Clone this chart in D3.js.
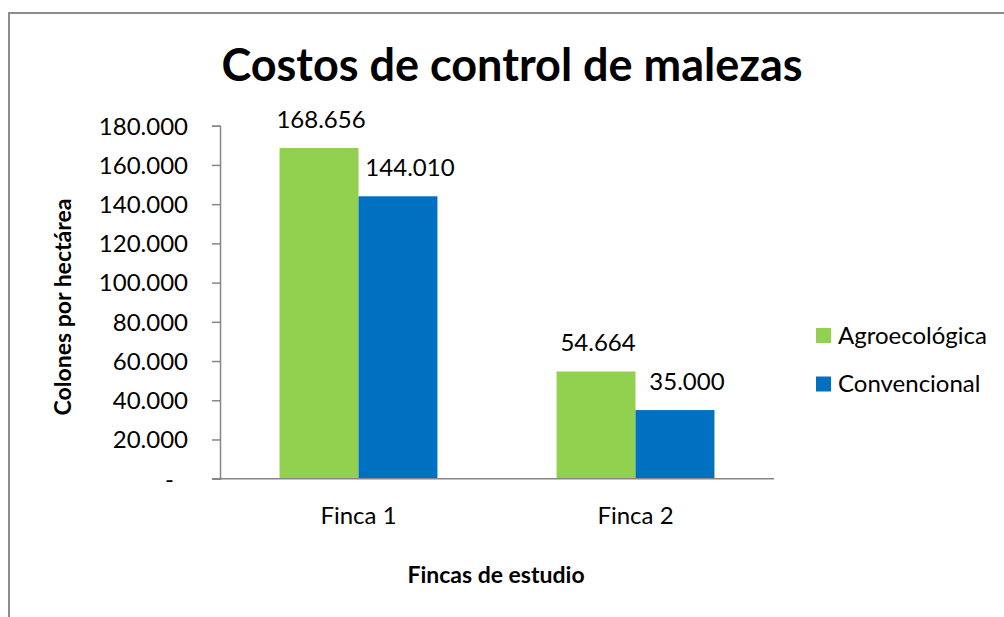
<!DOCTYPE html>
<html>
<head>
<meta charset="utf-8">
<script src="https://cdn.jsdelivr.net/npm/d3@7"></script>
<style>
  body { margin: 0; background: #fff; }
  svg { display: block; font-family: Lato, "Open Sans", sans-serif; }
  .axis path, .axis line { stroke: #868686; stroke-width: 1.5; }
  .axis text { font-family: Lato, "Open Sans", sans-serif; font-size: 24px; fill: #000; }
</style>
</head>
<body>
<svg></svg>
<script>
var categories = ["Finca 1", "Finca 2"];
var seriesNames = ["Agroecológica", "Convencional"];
var agroValues = [168656, 54664];
var convValues = [144010, 35000];
var yTicks = [0, 20000, 40000, 60000, 80000, 100000, 120000, 140000, 160000, 180000];
var colors = ["#92D050", "#0070C0"];

var width = 1004, height = 617;
var margins = { left: 220, right: 230, top: 125.7, bottom: 138.3 };

var svg = d3.select("svg")
  .attr("width", width)
  .attr("height", height);

// chart frame
svg.append("rect")
  .attr("x", 9).attr("y", 13)
  .attr("width", width + 20).attr("height", height + 20)
  .attr("fill", "none").attr("stroke", "#8c8c8c").attr("stroke-width", 2);

var plotW = width - margins.left - margins.right;
var plotH = height - margins.top - margins.bottom;

var x0 = d3.scaleBand()
  .domain(categories)
  .range([0, plotW])
  .paddingInner(0.43)
  .paddingOuter(0.215);
var x1 = d3.scaleBand()
  .domain(seriesNames)
  .range([0, x0.bandwidth()]);
var y = d3.scaleLinear()
  .domain([0, 180000])
  .range([plotH, 0]);

var fmt = d3.formatLocale({ decimal: ",", thousands: ".", grouping: [3], currency: ["", ""] }).format(",.0f");

var g = svg.append("g")
  .attr("transform", "translate(" + margins.left + "," + margins.top + ")");

var rows = categories.map((c, i) => ({ cat: c, vals: [agroValues[i], convValues[i]] }));

var groups = g.selectAll(".grp")
  .data(rows)
  .enter().append("g")
  .attr("transform", d => "translate(" + x0(d.cat) + ",0)");

groups.selectAll("rect")
  .data(d => d.vals.map((v, j) => ({ s: seriesNames[j], v: v, j: j })))
  .enter().append("rect")
  .attr("x", d => x1(d.s))
  .attr("y", d => y(d.v))
  .attr("width", x1.bandwidth())
  .attr("height", d => plotH - y(d.v))
  .attr("fill", d => colors[d.j]);

// labels sit a little right of centre on the second series, like Excel does
groups.selectAll(".lbl")
  .data(d => d.vals.map((v, j) => ({ s: seriesNames[j], v: v, j: j })))
  .enter().append("text")
  .attr("x", d => x1(d.s) + x1.bandwidth() / 2 + (d.j ? 12 : 2))
  .attr("y", d => y(d.v) - 20)
  .attr("text-anchor", "middle")
  .attr("font-size", "24px")
  .text(d => fmt(d.v));

// y axis
g.append("g")
  .attr("class", "axis")
  .call(d3.axisLeft(y).tickValues(yTicks).tickSize(8).tickSizeOuter(8).tickPadding(24)
    .tickFormat(d => d === 0 ? "-" : fmt(d)))
  .call(a => a.selectAll("text").attr("dy", "0.35em"))
  .call(a => a.selectAll(".tick").filter(d => d === 0).select("text").attr("dx", "-14"));

// x axis
g.append("g")
  .attr("class", "axis")
  .attr("transform", "translate(0," + plotH + ")")
  .call(d3.axisBottom(x0).tickSize(0).tickPadding(28))
  .call(a => a.select(".domain").attr("d", "M-8,0H" + plotW));

// title
svg.append("text")
  .attr("x", 512).attr("y", 81)
  .attr("text-anchor", "middle")
  .attr("font-size", "45px").attr("font-weight", "bold")
  .text("Costos de control de malezas");

// axis titles
svg.append("text")
  .attr("x", 496).attr("y", 583)
  .attr("text-anchor", "middle")
  .attr("font-size", "23px").attr("font-weight", "bold")
  .text("Fincas de estudio");

svg.append("text")
  .attr("transform", "translate(71,307) rotate(-90)")
  .attr("text-anchor", "middle")
  .attr("font-size", "23px").attr("font-weight", "bold")
  .text("Colones por hectárea");

// legend
var legend = svg.append("g").attr("transform", "translate(816,328)");
var items = legend.selectAll("g")
  .data(seriesNames)
  .enter().append("g")
  .attr("transform", (d, i) => "translate(0," + i * 48.5 + ")");
items.append("rect")
  .attr("width", 15).attr("height", 15)
  .attr("fill", (d, i) => colors[i]);
items.append("text")
  .attr("x", 22).attr("y", 7.5).attr("dy", "0.35em")
  .attr("font-size", "24px")
  .text(d => d);
</script>
</body>
</html>
